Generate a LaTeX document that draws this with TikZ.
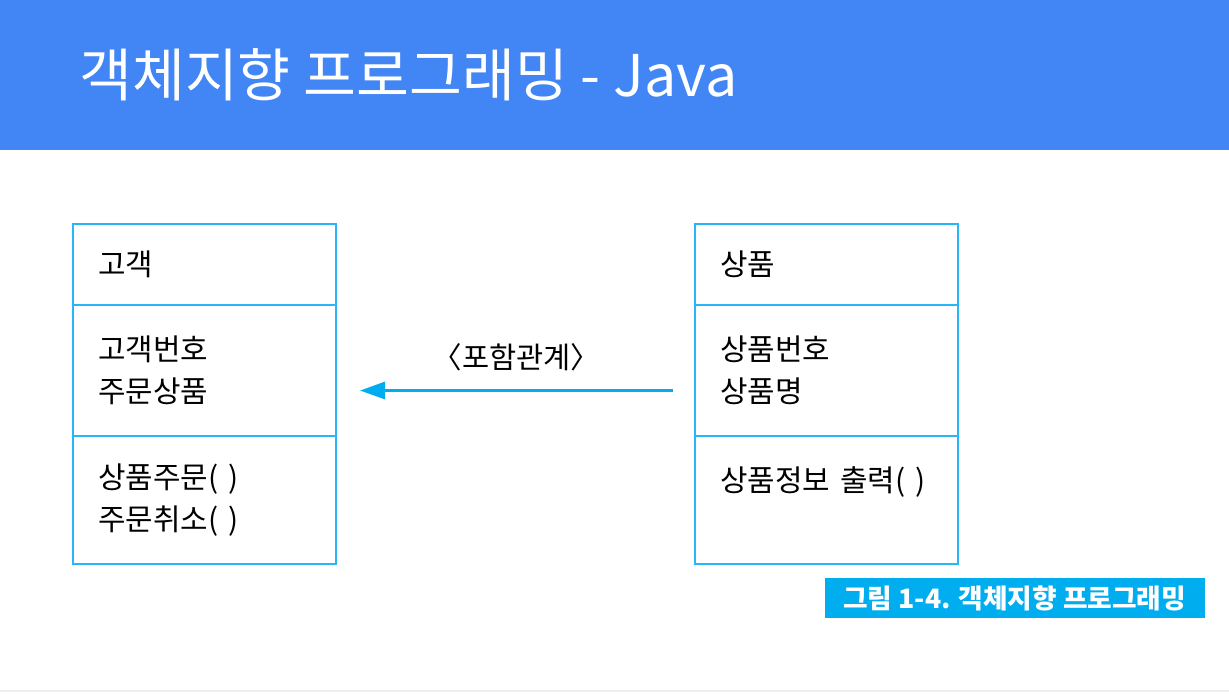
\documentclass[tikz,border=0pt]{standalone}
\usepackage{fontspec}
\setmainfont{Noto Sans CJK KR}
\usepackage{tikz}
\usetikzlibrary{arrows.meta,positioning,calc}
\definecolor{barblue}{RGB}{66,133,244}
\definecolor{umlcyan}{RGB}{41,182,246}
\definecolor{capcyan}{RGB}{0,174,239}
\definecolor{rulegray}{RGB}{238,238,238}
\tikzset{
  umlbox/.style={draw=umlcyan, line width=1.2pt, rectangle, outer sep=0pt, inner xsep=5.1mm,
                 text width=42.4mm, align=left, minimum width=52.6mm,
                 font=\fontsize{17}{23.8}\selectfont},
  relarr/.style={-{Triangle[length=5mm, width=3.4mm]}, capcyan, line width=1.7pt},
  figcap/.style={fill=capcyan, text=white, minimum width=76mm, minimum height=8mm,
                 inner sep=0pt, font=\fontsize{15.2}{17}\selectfont\bfseries},
}
\begin{document}
\begin{tikzpicture}[x=0.2mm, y=-0.2mm]
  \useasboundingbox (0,0) rectangle (1229,693);
  % title bar
  \fill[barblue] (0,0) rectangle (1229,150);
  \node[anchor=west, text=white, font=\fontsize{32.7}{38}\selectfont, inner sep=0pt]
    (title) at (79,75) {객체지향 프로그래밍 - Java};
  \draw[rulegray, line width=0.6pt] (0,691) -- (1229,691);
  % customer class
  \node[umlbox, minimum height=16.2mm, anchor=north west] (cname) at (73,224) {고객};
  \node[umlbox, minimum height=26.2mm, below=0pt of cname] (cattr) {고객번호\\ 주문상품};
  \node[umlbox, minimum height=25.6mm, below=0pt of cattr] (cop) {상품주문( )\\ 주문취소( )};
  % product class
  \node[umlbox, minimum height=16.2mm, anchor=north west] (pname) at (695,224) {상품};
  \node[umlbox, minimum height=26.2mm, below=0pt of pname] (pattr) {상품번호\\ 상품명};
  \node[umlbox, minimum height=25.6mm, below=0pt of pattr] (pop) {상품정보 출력( )\\ \mbox{}};
  % relation
  \coordinate (relstart) at ($(pattr.west)+(-22,20)$);
  \coordinate (relend) at ($(cattr.east)+(24,20)$);
  \draw[relarr] (relstart) -- (relend);
  \node[font=\fontsize{16.8}{19}\selectfont] (rellabel) at ($(relstart)!0.5!(relend)+(0,-33)$) {〈포함관계〉};
  % caption
  \node[figcap, anchor=north east] (cap) at (1205,578) {그림 1-4. 객체지향 프로그래밍};
\end{tikzpicture}
\end{document}
